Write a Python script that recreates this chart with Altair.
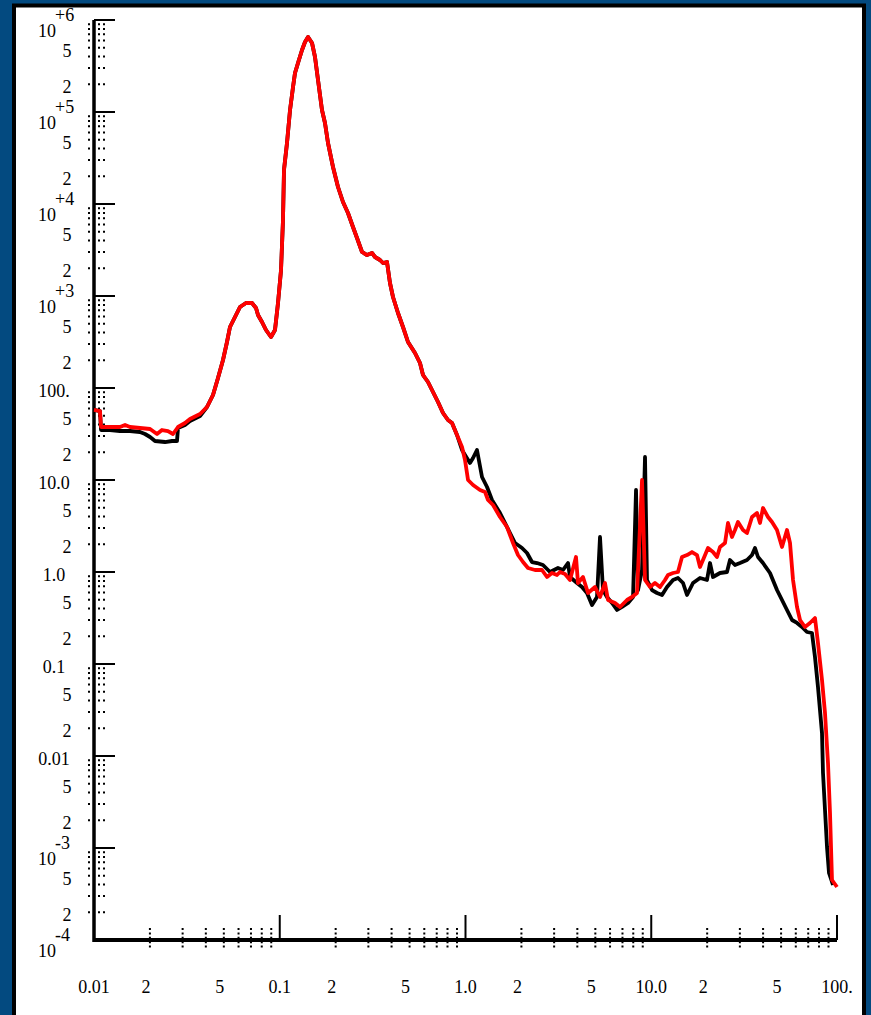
import altair as alt
import pandas as pd

# ---------------- data ----------------
# low-frequency part (the two runs differ)
red_low_f = [0.0100, 0.01077, 0.01091, 0.01219, 0.0138, 0.01469, 0.01563, 0.01768, 0.02003,
             0.02184, 0.02323, 0.02502, 0.02663, 0.02833, 0.0309, 0.03287, 0.03722]
red_low_p = [57.67, 56.23, 37.68, 37.68, 37.68, 39.61, 37.68, 36.75, 35.84,
             31.62, 34.95, 34.08, 31.62, 37.68, 41.65, 46.03, 52.17]

black_low_f = [0.0100, 0.01077, 0.01091, 0.01219, 0.0138, 0.01563, 0.01768, 0.01882, 0.02003,
               0.0213, 0.02411, 0.0263, 0.02798, 0.02833, 0.0309, 0.03287, 0.03722]
black_low_p = [57.67, 56.23, 34.95, 34.95, 34.08, 34.08, 33.24, 31.62, 29.34,
               26.54, 25.88, 26.54, 26.54, 36.75, 39.61, 43.78, 49.62]

# middle part where both runs coincide
common_f = [0.04058, 0.04372, 0.04651, 0.04949, 0.052, 0.05396, 0.05742, 0.06109, 0.0658, 0.07089,
            0.07451, 0.07638, 0.08024, 0.08433, 0.08973, 0.09428, 0.09786, 0.1016, 0.1041, 0.1054,
            0.1094, 0.1136, 0.1179, 0.1208, 0.1254, 0.1318, 0.1368, 0.142, 0.1492, 0.1548,
            0.1607, 0.1688, 0.1752, 0.1819, 0.1935, 0.2059, 0.219, 0.233, 0.2479, 0.2606,
            0.2773, 0.2949, 0.3138, 0.3257, 0.3465, 0.3597, 0.3779, 0.3922, 0.4071, 0.4331,
            0.4608, 0.4903, 0.5348, 0.5689, 0.5905, 0.6282, 0.6683, 0.7112, 0.7568, 0.805,
            0.8461, 0.9]
common_p = [62.17, 83.92, 128.4, 201.5, 316.2, 460.3, 591.2, 759.3, 839.1, 839.1,
            740.5, 621.7, 521.7, 427.0, 358.4, 427.0, 839.1, 1917, 6700, 23420,
            46030, 105100, 186900, 265400, 340900, 472000, 576700, 653500, 562300, 396100,
            222700, 105100, 75930, 46030, 25250, 15300, 10510, 7981, 5623, 4269,
            3008, 2790, 2934, 2654, 2462, 2284, 2342, 1384, 975.2, 653.5,
            460.3, 316.2, 240.1, 186.9, 138.5, 116.2, 90.48, 70.44, 53.48, 44.90,
            41.65, 30.84]

# high-frequency part
red_high_f = [0.9577, 0.9938, 1.032, 1.098, 1.197, 1.274, 1.322, 1.407, 1.534, 1.673,
              1.802, 1.917, 2.040, 2.170, 2.367, 2.581, 2.747, 2.922, 3.108, 3.226,
              3.433, 3.652, 3.934, 4.033, 4.291, 4.566, 4.980, 5.298, 5.636, 5.850,
              6.382, 6.789, 7.404, 7.880, 8.383, 8.920, 9.256, 9.847, 10.47, 11.15,
              11.86, 12.31, 13.10, 13.93, 14.64, 15.58, 16.57, 17.63, 18.30, 18.99,
              20.21, 21.50, 22.59, 23.45, 24.95, 25.89, 27.20, 28.24, 29.31, 31.19,
              32.78, 34.87, 37.10, 38.50, 39.96, 42.51, 44.68, 47.53, 50.57, 53.80,
              55.85, 57.98, 60.92, 63.23, 67.24, 71.53, 76.11, 79.00, 83.03, 86.18,
              89.44, 91.70, 93.99, 100.0]
red_high_p = [22.84, 16.50, 10.00, 8.825, 7.787, 7.406, 6.062, 5.349, 3.961, 3.084,
              2.066, 1.530, 1.284, 1.105, 1.051, 1.051, 0.8824, 0.9752, 0.9278, 1.000,
              0.9512, 0.8185, 1.456, 0.7590, 0.8824, 0.5911, 0.6871, 0.5349, 0.7590, 0.4962,
              0.4603, 0.4165, 0.4962, 0.5349, 0.5911, 10.00, 0.8185, 0.6871, 0.7590, 0.6871,
              0.8185, 0.9278, 0.9752, 1.000, 1.456, 1.530, 1.649, 1.530, 1.133, 1.350,
              1.823, 1.649, 1.456, 1.870, 2.066, 3.409, 2.401, 2.860, 3.495, 2.860,
              2.654, 3.961, 4.378, 3.409, 4.963, 3.961, 3.495, 2.860, 1.870, 2.860,
              2.066, 0.8185, 0.4165, 0.3008, 0.2525, 0.2791, 0.3162, 0.1692, 0.06700, 0.02934,
              0.008392, 0.002402, 0.000449, 0.0003768]

black_high_f = [0.9577, 0.9938, 1.057, 1.098, 1.153, 1.227, 1.306, 1.389, 1.534, 1.736,
                1.847, 2.015, 2.144, 2.280, 2.427, 2.613, 2.851, 3.147, 3.348, 3.563,
                3.652, 3.983, 4.238, 4.509, 4.799, 5.105, 5.298, 5.498, 5.777, 6.149,
                6.542, 6.960, 7.497, 7.979, 8.280, 8.486, 8.920, 9.256, 9.487, 10.09,
                10.74, 11.43, 12.16, 13.10, 13.93, 14.83, 15.58, 16.78, 18.30, 19.96,
                20.71, 21.50, 23.45, 25.57, 26.54, 28.24, 30.05, 32.78, 34.87, 36.19,
                37.56, 39.96, 43.58, 47.53, 50.57, 53.80, 57.26, 60.92, 64.78, 68.92,
                73.33, 76.11, 79.00, 83.03, 84.07, 88.35, 90.57, 95.17]
black_high_p = [21.19, 18.69, 15.30, 17.34, 21.19, 10.78, 8.393, 6.062, 4.378, 2.654,
                2.066, 1.823, 1.609, 1.284, 1.252, 1.191, 1.000, 1.105, 1.051, 1.252,
                0.8824, 0.7590, 0.6871, 0.5911, 0.4378, 0.5349, 2.401, 0.6371, 0.5349, 0.4603,
                0.3864, 0.4165, 0.4603, 0.5349, 7.787, 0.6371, 1.051, 17.78, 0.8185, 0.6371,
                0.5911, 0.5623, 0.6871, 0.8185, 0.8605, 0.7590, 0.5623, 0.7590, 0.8605, 0.8185,
                1.252, 0.8824, 0.9752, 1.000, 1.350, 1.191, 1.252, 1.350, 1.530, 1.823,
                1.456, 1.252, 0.9752, 0.6371, 0.4962, 0.3864, 0.3008, 0.2791, 0.2525, 0.2227,
                0.2173, 0.1192, 0.05623, 0.01778, 0.006535, 0.001025, 0.0005349, 0.0003961]

# axis ticks and labels
minor_multipliers = [2, 3, 4, 5, 6, 7, 8, 9]
y_decades = [1e-4, 1e-3, 1e-2, 0.1, 1, 10, 100, 1e3, 1e4, 1e5, 1e6]
x_decades = [0.01, 0.1, 1, 10, 100]

y_plain_vals = [100, 10, 1, 0.1, 0.01]
y_plain_text = ["100.", "10.0", "1.0", "0.1", "0.01"]
y_pow_vals = [1e6, 1e5, 1e4, 1e3, 1e-3, 1e-4]
y_pow_exp = ["+6", "+5", "+4", "+3", "-3", "-4"]
x_dec_text = ["0.01", "0.1", "1.0", "10.0", "100."]
small_label_mult = [2, 5]

# ---------------- build tables ----------------
W, H = 743, 920
xscale = alt.Scale(type="log", domain=[0.01, 100], nice=False)
yscale = alt.Scale(type="log", domain=[1e-4, 1e6], nice=False)
FONT = "Liberation Serif"
FS = 18

red_df = pd.DataFrame({"f": red_low_f + common_f + red_high_f,
                       "p": red_low_p + common_p + red_high_p})
red_df["i"] = range(len(red_df))
black_df = pd.DataFrame({"f": black_low_f + common_f + black_high_f,
                         "p": black_low_p + common_p + black_high_p})
black_df["i"] = range(len(black_df))

y_minor = pd.DataFrame({"v": [m * d for d in y_decades[:-1] for m in minor_multipliers]})
x_minor = pd.DataFrame({"v": [m * d for d in x_decades[:-1] for m in minor_multipliers]})
y_major = pd.DataFrame({"v": y_decades[1:]})
x_major = pd.DataFrame({"v": x_decades[1:]})

y_small = pd.DataFrame({"v": [m * d for d in y_decades[:-1] for m in small_label_mult],
                        "t": [str(m) for d in y_decades[:-1] for m in small_label_mult]})
x_small = pd.DataFrame({"v": [m * d for d in x_decades[:-1] for m in small_label_mult],
                        "t": [str(m) for d in x_decades[:-1] for m in small_label_mult]})
y_plain = pd.DataFrame({"v": y_plain_vals, "t": y_plain_text})
y_pow = pd.DataFrame({"v": y_pow_vals, "t": y_pow_exp, "b": ["10"] * len(y_pow_vals)})
x_dec = pd.DataFrame({"v": x_decades, "t": x_dec_text})
one = pd.DataFrame({"a": [0]})

Y = lambda f: alt.Y(f, type="quantitative", scale=yscale, axis=None)
X = lambda f: alt.X(f, type="quantitative", scale=xscale, axis=None)

frame = alt.Chart(one).mark_rect(fill="white", stroke="black", strokeWidth=4).encode(
    x=alt.value(-80), x2=alt.value(770), y=alt.value(-14.5), y2=alt.value(1030))

yminor = alt.Chart(y_minor).mark_rule(color="black", strokeWidth=2, strokeDash=[2, 3]).encode(
    y=Y("v"), x=alt.value(-6), x2=alt.value(12))
ymajor = alt.Chart(y_major).mark_rule(color="black", strokeWidth=2).encode(
    y=Y("v"), x=alt.value(0), x2=alt.value(21))
xminor = alt.Chart(x_minor).mark_rule(color="black", strokeWidth=2, strokeDash=[2, 2.4]).encode(
    x=X("v"), y=alt.value(908), y2=alt.value(928))
xmajor = alt.Chart(x_major).mark_rule(color="black", strokeWidth=2).encode(
    x=X("v"), y=alt.value(895), y2=alt.value(920))

yaxis = alt.Chart(one).mark_rule(color="black", strokeWidth=3.5).encode(
    x=alt.value(0), y=alt.value(0), y2=alt.value(922))
xaxis = alt.Chart(one).mark_rule(color="black", strokeWidth=3.8).encode(
    y=alt.value(920), x=alt.value(-1), x2=alt.value(743))

black_line = alt.Chart(black_df).mark_line(color="black", strokeWidth=3.8, strokeJoin="round").encode(
    x=X("f"), y=Y("p"), order="i:Q")
red_line = alt.Chart(red_df).mark_line(color="#ff0000", strokeWidth=3.8, strokeJoin="round").encode(
    x=X("f"), y=Y("p"), order="i:Q")

txt = dict(font=FONT, fontSize=FS, color="black", baseline="middle")
ysmall_t = alt.Chart(y_small).mark_text(align="center", dy=4, **txt).encode(
    y=Y("v"), x=alt.value(-27), text="t:N", size=alt.value(FS))
yplain_t = alt.Chart(y_plain).mark_text(align="center", dy=4, **txt).encode(
    y=Y("v"), x=alt.value(-40), text="t:N", size=alt.value(FS))
ypow_base = alt.Chart(y_pow).mark_text(align="center", dy=12, **txt).encode(
    y=Y("v"), x=alt.value(-47), text="b:N", size=alt.value(FS))
ypow_exp = alt.Chart(y_pow).mark_text(align="left", dy=-4, **txt).encode(
    y=Y("v"), x=alt.value(-39), text="t:N", size=alt.value(FS))
xdec_t = alt.Chart(x_dec).mark_text(align="center", **txt).encode(
    x=X("v"), y=alt.value(968), text="t:N", size=alt.value(FS))
xsmall_t = alt.Chart(x_small).mark_text(align="center", dx=-4, **txt).encode(
    x=X("v"), y=alt.value(968), text="t:N", size=alt.value(FS))

chart = alt.layer(
    frame, yminor, ymajor, xminor, xmajor, yaxis, xaxis, black_line, red_line,
    ysmall_t, yplain_t, ypow_base, ypow_exp, xdec_t, xsmall_t
).properties(
    width=W, height=H,
    background="#034a80",
    padding={"left": 94, "top": 20, "right": 34, "bottom": 75},
    autosize=alt.AutoSizeParams(type="none"),
).configure_view(stroke=None)

chart.save("out.html", embed_options={"renderer": "svg", "actions": False})
